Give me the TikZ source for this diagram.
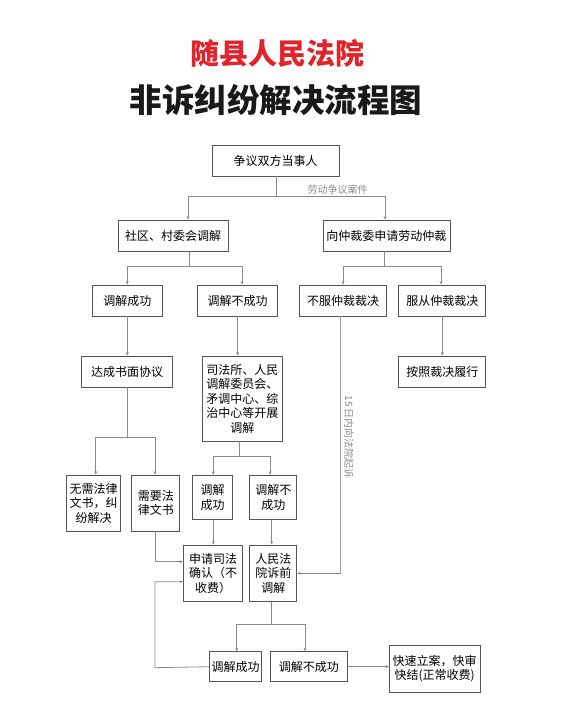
\documentclass[tikz,border=0pt]{standalone}
\usepackage{fontspec}
\setmainfont{Noto Sans CJK SC}
\usepackage{xcolor}
\usetikzlibrary{arrows.meta}
\definecolor{courtred}{HTML}{E1232B}
\definecolor{linegray}{HTML}{8A8A8A}
\definecolor{boxgray}{HTML}{555555}

\begin{document}
\begin{tikzpicture}[x=1pt, y=-1pt,
    box/.style={draw=boxgray, line width=0.8pt, inner sep=0pt, align=center,
        font=\fontsize{12}{14.5}\selectfont},
    link/.style={draw=linegray, line width=0.8pt},
    arrow/.style={link, -{Stealth[length=3.5pt, width=3pt]}},
    note/.style={text=linegray, font=\fontsize{10}{12}\selectfont}]

    \useasboundingbox (0,0) rectangle (560,715);

    % Titles
    \node[text=courtred, font=\bfseries\fontsize{29}{31}\selectfont] (court) at (277,53) {随县人民法院};
    \node[text=black!90, font=\bfseries\fontsize{32.5}{34}\selectfont] (title) at (276,100) {非诉纠纷解决流程图};

    % first level
    \node[box, minimum width=127, minimum height=31] (parties) at (275.5,160.5) {争议双方当事人};
    \node[box, minimum width=110, minimum height=31] (community) at (173,235.5) {社区、村委会调解};
    \node[box, minimum width=127, minimum height=31] (arbapply) at (386.4,235.5) {向仲裁委申请劳动仲裁};

    % second level
    \node[box, minimum width=70, minimum height=31] (okA) at (127.3,300.5) {调解成功};
    \node[box, minimum width=80, minimum height=31] (failA) at (237.7,300.5) {调解不成功};
    \node[box, minimum width=87, minimum height=31] (reject) at (343,300.5) {不服仲裁裁决};
    \node[box, minimum width=87, minimum height=31] (accept) at (442.3,300.5) {服从仲裁裁决};

    % third level
    \node[box, minimum width=91, minimum height=31] (written) at (127,371.5) {达成书面协议};
    \node[box, minimum width=80, minimum height=85] (offices) at (242.3,398.5)
        {司法所、人民\\调解委员会、\\矛调中心、综\\治中心等开展\\调解};
    \node[box, minimum width=87, minimum height=31] (perform) at (442.3,371.5) {按照裁决履行};

    % fourth level
    \node[box, minimum width=54, minimum height=56] (nodoc) at (93.7,503) {无需法律\\文书，纠\\纷解决};
    \node[box, minimum width=48, minimum height=56] (needdoc) at (155.8,503) {需要法\\律文书};
    \node[box, minimum width=40, minimum height=44] (okB) at (212.7,497.3) {调解\\成功};
    \node[box, minimum width=47, minimum height=44] (failB) at (273.3,497.3) {调解不\\成功};

    % fifth level
    \node[box, minimum width=59.4, minimum height=56.7] (confirm) at (213,573.3) {申请司法\\确认（不\\收费）};
    \node[box, minimum width=47, minimum height=56.7] (precourt) at (273.3,573.3) {人民法\\院诉前\\调解};

    % last level
    \node[box, minimum width=52.4, minimum height=30] (okC) at (235.5,666.7) {调解成功};
    \node[box, minimum width=77.7, minimum height=30] (failC) at (308.8,666.7) {调解不成功};
    \node[box, minimum width=90.7, minimum height=47.7] (fasttrack) at (434.7,668.8) {快速立案，快审\\快结(正常收费)};

    % junctions
    \coordinate (j1) at (276.5,196);
    \coordinate (j2) at (189,266);
    \coordinate (j3) at (384.3,266);
    \coordinate (j4) at (127.7,437.3);
    \coordinate (j5) at (239,456);
    \coordinate (j6) at (271.7,624);
    \coordinate (loopL) at (155,667.7);

    % connectors
    \draw[link] (parties.south -| j1) -- (j1);
    \draw[arrow] (j1) -| ([xshift=15]community.north);
    \draw[arrow] (j1) -| ([xshift=-1.4]arbapply.north);
    \node[note] (labour) at (337.5,190) {劳动争议案件};

    \draw[link] (community.south -| j2) -- (j2);
    \draw[arrow] (j2) -| (okA.north);
    \draw[arrow] (j2) -| ([xshift=4.3]failA.north);

    \draw[link] (arbapply.south -| j3) -- (j3);
    \draw[arrow] (j3) -| (reject.north);
    \draw[arrow] (j3) -| ([xshift=-1.3]accept.north);

    \draw[arrow] (okA.south) -- (okA.south |- written.north);
    \draw[arrow] (failA.south) -- (failA.south |- offices.north);
    \draw[arrow] (accept.south) -- (perform.north);

    \draw[link] (written.south -| j4) -- (j4);
    \draw[arrow] (j4) -| ([xshift=2]nodoc.north);
    \draw[arrow] (j4) -| ([xshift=-0.8]needdoc.north);

    \draw[link] (offices.south -| j5) -- (j5);
    \draw[arrow] (j5) -| ([xshift=0.6]okB.north);
    \draw[arrow] (j5) -| ([xshift=-3.3]failB.north);

    \draw[arrow] ([xshift=0.6]okB.south) -- ([xshift=0.6]okB.south |- confirm.north);
    \draw[arrow] ([xshift=-1.6]failB.south) -- ([xshift=-1.6]failB.south |- precourt.north);

    \draw[arrow] (needdoc.south) |- ([yshift=11.6]confirm.west);
    \draw[arrow] (okC.west) -- (loopL) |- ([yshift=-8.4]confirm.west);

    \draw[link, line width=1pt, draw=linegray!80] ([xshift=-2.3]reject.south) -- ([xshift=-2.3]reject.south |- precourt.east)
        node[note, pos=0.47, rotate=-90, anchor=south, inner sep=3pt] (sue) {15 日内向法院起诉};
    \draw[arrow] ([xshift=-2.3]reject.south |- precourt.east) -- (precourt.east);

    \draw[link] ([xshift=-1.6]precourt.south) -- ([xshift=-1.6]precourt.south |- j6);
    \draw[arrow] (j6) -| ([xshift=1.2]okC.north);
    \draw[arrow] (j6) -| ([xshift=-3.8]failC.north);

    \draw[arrow] (failC.east) -- (failC.east -| fasttrack.west);

\end{tikzpicture}
\end{document}
